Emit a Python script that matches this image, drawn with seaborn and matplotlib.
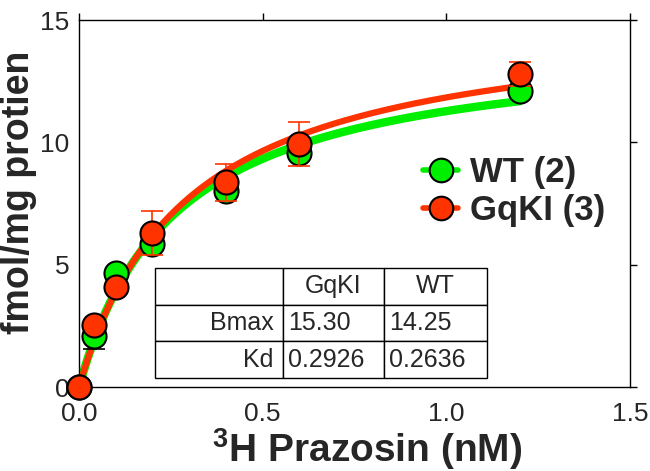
import numpy as np
import pandas as pd
import matplotlib
matplotlib.use("Agg")
import matplotlib.pyplot as plt
from matplotlib.lines import Line2D
import seaborn as sns

# Data
conc = [0.0, 0.04, 0.1, 0.2, 0.4, 0.6, 1.2]
wt_vals = [0.0, 2.09, 4.67, 5.85, 8.0, 9.55, 12.1]
wt_err = [0.0, 0.53, 0.0, 0.0, 0.2, 0.2, 0.0]
gq_vals = [0.0, 2.54, 4.1, 6.3, 8.37, 9.95, 12.8]
gq_err = [0.0, 0.0, 0.0, 0.9, 0.75, 0.9, 0.5]
groups = ["WT (2)", "GqKI (3)"]
table_cols = ["", "GqKI", "WT"]
table_rows = [["Bmax", "15.30", "14.25"], ["Kd", "0.2926", "0.2636"]]
bmax = {"GqKI": 15.30, "WT": 14.25}
kd = {"GqKI": 0.2926, "WT": 0.2636}

sns.set_theme(style="white")
plt.rcParams["font.family"] = ["Liberation Sans", "DejaVu Sans"]
plt.rcParams["mathtext.fontset"] = "custom"
plt.rcParams["mathtext.rm"] = "Liberation Sans"
plt.rcParams["mathtext.bf"] = "Liberation Sans:bold"

GREEN = "#00ee00"
RED = "#ff3300"

fig = plt.figure(figsize=(6.5, 4.71), dpi=100)
ax = fig.add_axes([0.1215, 0.178, 0.8475, 0.7795])

xfit = np.linspace(0, 1.2, 200)
fit_df = pd.DataFrame({
    "x": np.concatenate([xfit, xfit]),
    "y": np.concatenate([bmax["WT"] * xfit / (kd["WT"] + xfit),
                         bmax["GqKI"] * xfit / (kd["GqKI"] + xfit)]),
    "g": ["WT"] * len(xfit) + ["GqKI"] * len(xfit),
})
sns.lineplot(data=fit_df[fit_df.g == "WT"], x="x", y="y", color=GREEN, lw=6,
             ax=ax, legend=False, zorder=2, solid_capstyle="round")
sns.lineplot(data=fit_df[fit_df.g == "GqKI"], x="x", y="y", color=RED, lw=4.5,
             ax=ax, legend=False, zorder=3, solid_capstyle="round")

ax.errorbar(conc, wt_vals, yerr=wt_err, fmt="none", ecolor="black", elinewidth=1.2,
            capsize=8, capthick=1.2, zorder=4, clip_on=False)
sns.scatterplot(x=conc, y=wt_vals, color=GREEN, s=300, edgecolor="black",
                linewidth=1.5, ax=ax, zorder=5, clip_on=False)
ax.errorbar(conc, gq_vals, yerr=gq_err, fmt="none", ecolor=RED, elinewidth=1.2,
            capsize=8, capthick=1.2, zorder=6, clip_on=False)
sns.scatterplot(x=conc, y=gq_vals, color=RED, s=300, edgecolor="black",
                linewidth=1.5, ax=ax, zorder=7, clip_on=False)

ax.set_xlim(0, 1.5)
ax.set_ylim(0, 15)
ax.set_xticks([0, 0.5, 1.0, 1.5])
ax.set_xticklabels(["0.0", "0.5", "1.0", "1.5"])
ax.set_yticks([0, 5, 10, 15])
ax.set_yticklabels(["0", "5", "10", "15"])
ax.tick_params(axis="both", which="major", direction="out", length=5, width=1,
               color="black", labelsize=19, top=True, right=True,
               labeltop=False, labelright=False)
ax.tick_params(axis="x", pad=6)
ax.tick_params(axis="y", pad=2)
for sp in ax.spines.values():
    sp.set_color("black")
    sp.set_linewidth(1)

ax.set_xlabel("$\\mathbf{^{3}}$H Prazosin (nM)", fontsize=28, fontweight="bold")
ax.set_ylabel("fmol/mg protien", fontsize=27, fontweight="bold")
ax.xaxis.set_label_coords(0.523, -0.105)
ax.yaxis.set_label_coords(-0.076, 0.53)

handles = [
    Line2D([0], [0], color=GREEN, lw=4, marker="o", markersize=17,
           markerfacecolor=GREEN, markeredgecolor="black", markeredgewidth=1.5),
    Line2D([0], [0], color=RED, lw=4, marker="o", markersize=17,
           markerfacecolor=RED, markeredgecolor="black", markeredgewidth=1.5),
]
ax.legend(handles, groups, loc="center left", bbox_to_anchor=(0.6, 0.533),
          frameon=False, handlelength=1.0, handletextpad=0.35, labelspacing=0.15,
          borderaxespad=0, prop={"weight": "bold", "size": 25})

tbl = ax.table(cellText=table_rows, colLabels=table_cols,
               colWidths=[0.232, 0.184, 0.186],
               bbox=[0.138, 0.025, 0.602, 0.30], zorder=1)
tbl.auto_set_font_size(False)
for (r, c), cell in tbl.get_celld().items():
    cell.set_edgecolor("black")
    cell.set_linewidth(1)
    cell.set_facecolor("white")
    cell.get_text().set_fontsize(18)
    if r == 0:
        cell.get_text().set_ha("center")
    elif c == 0:
        cell.get_text().set_ha("right")
        cell.PAD = 0.07
    else:
        cell.get_text().set_ha("left")
        cell.PAD = 0.05

fig.savefig("out.png", dpi=100)
